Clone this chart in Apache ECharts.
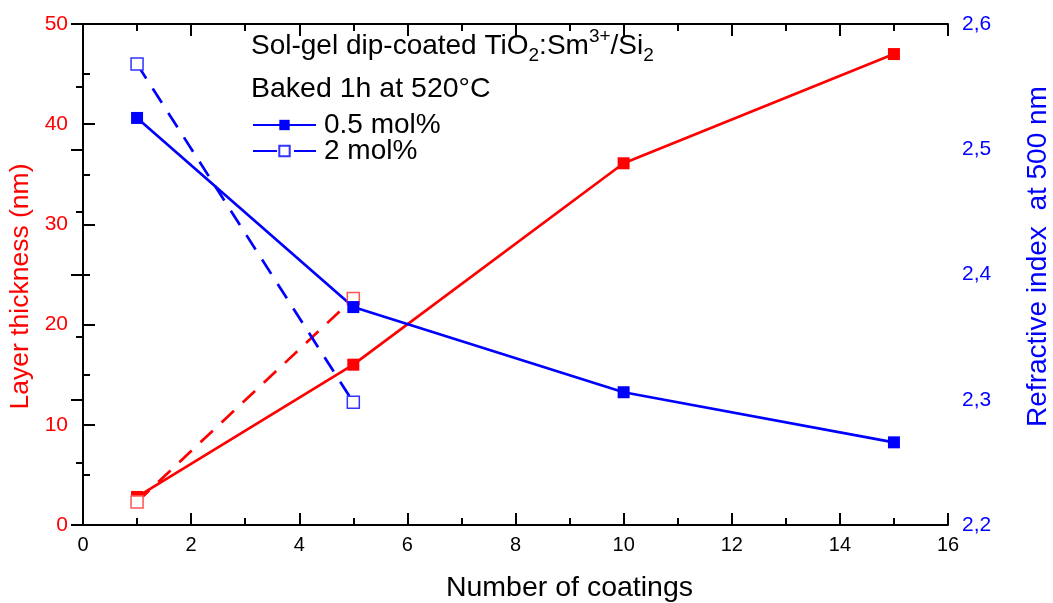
<!DOCTYPE html>
<html>
<head>
<meta charset="utf-8">
<script src="https://cdn.jsdelivr.net/npm/echarts@6/dist/echarts.min.js"></script>
<style>
  body { margin: 0; background: #fff; }
  #chart { width: 1053px; height: 603px; }
</style>
</head>
<body>
<div id="chart"></div>
<script>
// coatings count
let coatings = [1, 5, 10, 15];
let coatings2 = [1, 5];
// layer thickness (nm), left axis
let thick05 = [2.8, 16, 36.1, 47];
let thick2 = [2.3, 22.6];
// refractive index at 500 nm, right axis
let ri05 = [2.525, 2.374, 2.306, 2.266];
let ri2 = [2.568, 2.298];

let fontName = "Liberation Sans, Arial, sans-serif";

function pairs(xs, ys)
{
    let out = [];
    for (let i = 0; i < xs.length; i++)
    {
        out.push([xs[i], ys[i]]);
    }
    return out;
}

let myChart = echarts.init(document.getElementById("chart"));

let tickStyle = {
    axisLine: { show: true, lineStyle: { color: '#000', width: 2 } },
    axisTick: { show: true, inside: true, length: 12, lineStyle: { color: '#000', width: 2 } },
    minorTick: { show: true, splitNumber: 2, length: 7, lineStyle: { color: '#000', width: 2 } },
    splitLine: { show: false }
};

function legendBox(name, top, dash)
{
    let box = {
        data: [name],
        left: 247,
        top: top,
        itemWidth: 63,
        itemHeight: 13,
        itemGap: 0,
        textStyle: { fontSize: 28, color: '#000', fontFamily: fontName, lineHeight: 26, padding: [0, 0, 0, 3] },
        selectedMode: false
    };
    if (dash)
    {
        box.lineStyle = { type: dash };
    }
    return box;
}

let option = {
    animation: false,
    backgroundColor: '#fff',
    textStyle: { fontFamily: fontName },
    grid: { left: 83, right: 105, top: 24, bottom: 78, outerBoundsMode: 'none', containLabel: false },
    graphic: [
        {
            type: 'text',
            left: 251,
            top: 27,
            style: {
                text: '{a|Sol-gel dip-coated TiO}{sub|2}{a|:Sm}{sup|3+}{a|/Si}{sub|2}',
                rich: {
                    a: { fontSize: 28, fontFamily: fontName, fill: '#000', lineHeight: 38, verticalAlign: 'middle' },
                    sub: { fontSize: 19, fontFamily: fontName, fill: '#000', lineHeight: 38, verticalAlign: 'bottom' },
                    sup: { fontSize: 19, fontFamily: fontName, fill: '#000', lineHeight: 38, verticalAlign: 'top' }
                }
            }
        },
        {
            type: 'text',
            left: 251,
            top: 75,
            style: { text: 'Baked 1h at 520°C', fontSize: 28.5, fontFamily: fontName, fill: '#000' }
        }
    ],
    legend: [
        legendBox('0.5 mol%', 106),
        legendBox('2 mol%', 132, [24, 17])
    ],
    xAxis: [
        Object.assign({
            type: 'value',
            min: 0, max: 16, interval: 2,
            name: 'Number of coatings',
            nameLocation: 'middle',
            nameGap: 49,
            nameTextStyle: { fontSize: 28.5, color: '#000', padding: [0, 0, 0, 108] },
            axisLabel: { fontSize: 20, color: '#000', margin: 10 }
        }, tickStyle),
        Object.assign({
            type: 'value',
            position: 'top',
            min: 0, max: 16, interval: 2,
            axisLabel: { show: false }
        }, tickStyle)
    ],
    yAxis: [
        Object.assign({
            type: 'value',
            min: 0, max: 50, interval: 10,
            name: 'Layer thickness (nm)',
            nameLocation: 'middle',
            nameGap: 49,
            nameRotate: 90,
            nameTextStyle: { fontSize: 26.5, color: '#ff0000', padding: [0, 24, 0, 0] },
            axisLabel: { fontSize: 21, color: '#ff0000', margin: 15 }
        }, tickStyle),
        Object.assign({
            type: 'value',
            position: 'right',
            min: 2.2, max: 2.6, interval: 0.1,
            name: 'Refractive index  at 500 nm',
            nameLocation: 'middle',
            nameGap: 76,
            nameRotate: 90,
            nameTextStyle: { fontSize: 28, color: '#0000ff', padding: [0, 0, 0, 36] },
            axisLabel: {
                fontSize: 21, color: '#0000ff', margin: 14,
                formatter: v => v.toFixed(1).replace('.', ',')
            }
        }, tickStyle)
    ],
    series: [
        {
            name: 'thickness 0.5 mol%',
            type: 'line',
            yAxisIndex: 0,
            data: pairs(coatings, thick05),
            symbol: 'rect', symbolSize: 12,
            itemStyle: { color: '#ff0000' },
            lineStyle: { color: '#ff0000', width: 2.7 }
        },
        {
            name: 'thickness 2 mol%',
            type: 'line',
            yAxisIndex: 0,
            data: pairs(coatings2, thick2),
            symbol: 'rect', symbolSize: 12,
            itemStyle: { color: '#fff', borderColor: '#ff5555', borderWidth: 1.5 },
            lineStyle: { color: '#ff0000', width: 2.7, type: [17, 12] }
        },
        {
            name: '0.5 mol%',
            type: 'line',
            yAxisIndex: 1,
            data: pairs(coatings, ri05),
            symbol: 'rect', symbolSize: 12,
            itemStyle: { color: '#0000ff' },
            lineStyle: { color: '#0000ff', width: 2.7 }
        },
        {
            name: '2 mol%',
            type: 'line',
            yAxisIndex: 1,
            data: pairs(coatings2, ri2),
            symbol: 'rect', symbolSize: 12,
            itemStyle: { color: '#fff', borderColor: '#3333ff', borderWidth: 1.5 },
            lineStyle: { color: '#0000ff', width: 2.7, type: [17, 12] }
        }
    ]
};

myChart.setOption(option);
</script>
</body>
</html>
